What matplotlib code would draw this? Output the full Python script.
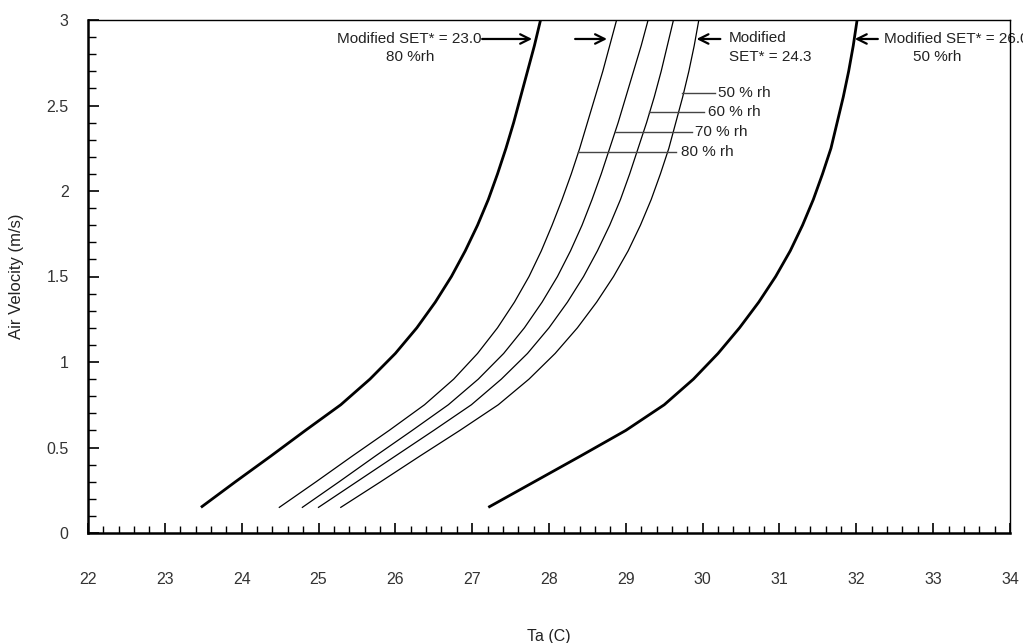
import matplotlib
matplotlib.use("Agg")
import matplotlib.pyplot as plt
from matplotlib.ticker import MultipleLocator, FuncFormatter

plt.rcParams['font.family'] = ['Liberation Sans', 'DejaVu Sans']

# Air velocity levels (m/s) at which temperatures were read
velocity = [0.15, 0.30, 0.45, 0.60, 0.75, 0.90, 1.05, 1.20, 1.35, 1.50,
            1.65, 1.80, 1.95, 2.10, 2.25, 2.40, 2.55, 2.70, 2.85, 3.00]

# Ta (C) for each comfort line
ta_set230_80rh = [23.47, 23.92, 24.38, 24.83, 25.29, 25.67, 26.00, 26.28, 26.52, 26.73,
                  26.91, 27.07, 27.21, 27.33, 27.44, 27.54, 27.63, 27.72, 27.81, 27.89]
ta_set243_80rh = [24.49, 24.97, 25.44, 25.92, 26.38, 26.76, 27.07, 27.33, 27.55, 27.74,
                  27.90, 28.04, 28.17, 28.29, 28.40, 28.50, 28.60, 28.70, 28.79, 28.88]
ta_set243_70rh = [24.79, 25.27, 25.74, 26.22, 26.69, 27.08, 27.41, 27.68, 27.91, 28.11,
                  28.28, 28.43, 28.56, 28.68, 28.79, 28.90, 29.00, 29.10, 29.20, 29.29]
ta_set243_60rh = [25.00, 25.50, 26.00, 26.50, 26.99, 27.38, 27.72, 28.00, 28.24, 28.45,
                  28.63, 28.79, 28.93, 29.05, 29.16, 29.27, 29.37, 29.46, 29.54, 29.62]
ta_set243_50rh = [25.29, 25.81, 26.32, 26.84, 27.34, 27.74, 28.08, 28.37, 28.62, 28.84,
                  29.03, 29.19, 29.33, 29.45, 29.56, 29.65, 29.74, 29.82, 29.89, 29.95]
ta_set260_50rh = [27.21, 27.81, 28.41, 29.00, 29.50, 29.88, 30.20, 30.48, 30.73, 30.95,
                  31.14, 31.30, 31.44, 31.56, 31.67, 31.75, 31.83, 31.90, 31.96, 32.01]

rh_labels = ["50 % rh", "60 % rh", "70 % rh", "80 % rh"]

fig = plt.figure(figsize=(10.23, 6.43), dpi=100)
ax = fig.add_axes([88/1023, 110/643, 922/1023, 513/643])

ax.plot(ta_set230_80rh, velocity, color='black', lw=2.0, solid_capstyle='butt')
ax.plot(ta_set260_50rh, velocity, color='black', lw=2.0, solid_capstyle='butt')
for ta in (ta_set243_80rh, ta_set243_70rh, ta_set243_60rh, ta_set243_50rh):
    ax.plot(ta, velocity, color='black', lw=0.9)

ax.set_xlim(22, 34)
ax.set_ylim(0, 3)
ax.xaxis.set_major_locator(MultipleLocator(1))
ax.xaxis.set_minor_locator(MultipleLocator(0.2))
ax.yaxis.set_major_locator(MultipleLocator(0.5))
ax.yaxis.set_minor_locator(MultipleLocator(0.1))
ax.yaxis.set_major_formatter(FuncFormatter(lambda v, p: f"{v:g}"))
ax.tick_params(axis='both', which='both', direction='in', colors='black',
               labelcolor='#333333', labelsize=11.5)
ax.tick_params(axis='x', which='major', length=7, width=1.2, pad=28)
ax.tick_params(axis='x', which='minor', length=5, width=1.0)
ax.tick_params(axis='y', which='major', length=8, width=1.2, pad=14)
ax.tick_params(axis='y', which='minor', length=6, width=1.0)

ax.spines['left'].set_linewidth(1.8)
ax.spines['bottom'].set_linewidth(1.8)
ax.spines['top'].set_linewidth(1.0)
ax.spines['right'].set_linewidth(1.0)
for s in ax.spines.values():
    s.set_zorder(5)

fig.text(17/1023, 1 - 276/643, "Air Velocity (m/s)", fontsize=12, color='#222222',
         rotation=90, ha='center', va='center')
fig.text(549/1023, 1 - 636/643, "Ta (C)", fontsize=11.5, color='#222222',
         ha='center', va='center')

tc = '#222222'
fs = 11
arrow = dict(arrowstyle='->', lw=1.6, color='black', shrinkA=0, shrinkB=0,
             mutation_scale=17)
yA = 2.889
ax.annotate("", xy=(27.78, yA), xytext=(27.13, yA), arrowprops=arrow)
ax.annotate("", xy=(28.755, yA), xytext=(28.34, yA), arrowprops=arrow)
ax.annotate("", xy=(29.92, yA), xytext=(30.23, yA), arrowprops=arrow)
ax.annotate("", xy=(31.98, yA), xytext=(32.28, yA), arrowprops=arrow)

ax.text(27.12, yA, "Modified SET* = 23.0", ha='right', va='center', fontsize=fs, color=tc)
ax.text(26.19, 2.784, "80 %rh", ha='center', va='center', fontsize=fs, color=tc)
ax.text(30.34, 2.895, "Modified", ha='left', va='center', fontsize=fs, color=tc)
ax.text(30.34, 2.784, "SET* = 24.3", ha='left', va='center', fontsize=fs, color=tc)
ax.text(32.36, yA, "Modified SET* = 26.0", ha='left', va='center', fontsize=fs,
        color=tc, zorder=1)
ax.text(33.05, 2.784, "50 %rh", ha='center', va='center', fontsize=fs, color=tc)

leaders = [(29.73, 30.16, 30.20, 2.575), (29.30, 30.02, 30.07, 2.462),
           (28.86, 29.86, 29.90, 2.343), (28.38, 29.65, 29.72, 2.228)]
for (x0, x1, xt, yv), lab in zip(leaders, rh_labels):
    ax.plot([x0, x1], [yv, yv], color='#444444', lw=1.0)
    ax.text(xt, yv, lab, ha='left', va='center', fontsize=fs, color=tc)

fig.savefig("out.png", dpi=100)
